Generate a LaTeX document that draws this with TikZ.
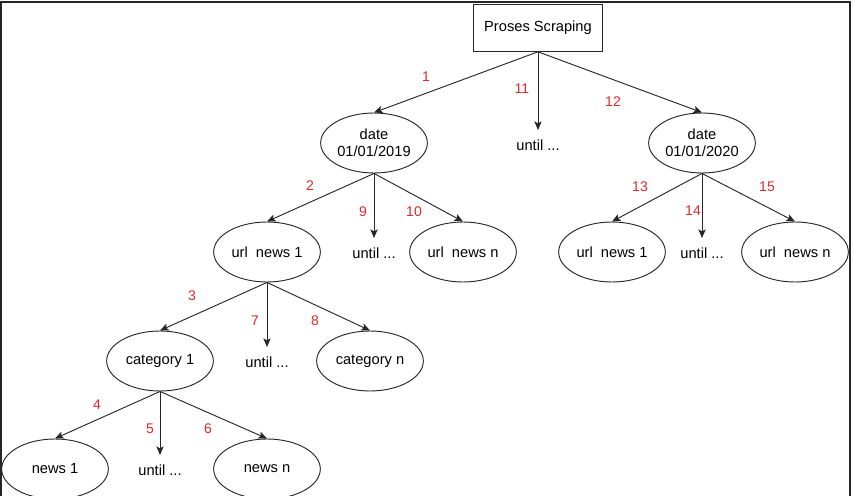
\documentclass[tikz,border=0pt]{standalone}
\usepackage{fontspec}
\setmainfont{Liberation Sans}
\usepackage{xcolor}
\usepackage{tikz}
\usetikzlibrary{arrows.meta,shapes.geometric}
\definecolor{scraperred}{HTML}{E0282A}
\definecolor{scraperline}{HTML}{262626}

\begin{document}
\begin{tikzpicture}[
  x=0.75pt, y=-0.75pt,
  every node/.style={font=\fontsize{11}{13}\selectfont},
  rootbox/.style={draw=scraperline, line width=0.7pt, minimum width=97pt,
                  minimum height=35pt, inner sep=2pt},
  item/.style={ellipse, draw=scraperline, line width=0.7pt, minimum width=80pt,
               minimum height=45pt, inner sep=0pt, align=center},
  until/.style={inner sep=7pt},
  num/.style={text=scraperred, font=\fontsize{10.5}{12}\selectfont, inner sep=0pt},
  arrow/.style={-{Stealth[length=6.5pt,width=5.5pt,inset=1.5pt]}, line width=0.7pt, draw=scraperline}
]
\useasboundingbox (0,0) rectangle (854,496);
\draw[line width=1.8pt, draw=black!85] (1,2) rectangle (850,530);

% tree nodes
\node[rootbox] (root) at (538,28) {Proses Scraping};

\node[item] (date19) at (374,143) {date\\01/01/2019};
\node[until] (until11) at (538,145) {until ...};
\node[item] (date20) at (702,143) {date\\01/01/2020};

\node[item] (urlA1) at (267,252) {url\ \ news 1};
\node[until] (until9) at (374,253) {until ...};
\node[item] (urlAn) at (463,252) {url\ \ news n};
\node[item] (urlB1) at (612,252) {url\ \ news 1};
\node[until] (until14) at (702,253) {until ...};
\node[item] (urlBn) at (795,252) {url\ \ news n};

\node[item] (cat1) at (160,361) {category 1};
\node[until] (until7) at (267,362) {until ...};
\node[item] (catn) at (370,361) {category n};

\node[item] (news1) at (55,469) {news 1};
\node[until] (until5) at (160,470) {until ...};
\node[item] (newsn) at (267,469) {news n};

% connectors
\draw[arrow] (root.south) -- (date19.north);
\draw[arrow] (root.south) -- (until11.north);
\draw[arrow] (root.south) -- (date20.north);
\draw[arrow] (date19.south) -- (urlA1.north);
\draw[arrow] (date19.south) -- (until9.north);
\draw[arrow] (date19.south) -- (urlAn.north);
\draw[arrow] (date20.south) -- (urlB1.north);
\draw[arrow] (date20.south) -- (until14.north);
\draw[arrow] (date20.south) -- (urlBn.north);
\draw[arrow] (urlA1.south) -- (cat1.north);
\draw[arrow] (urlA1.south) -- (until7.north);
\draw[arrow] (urlA1.south) -- (catn.north);
\draw[arrow] (cat1.south) -- (news1.north);
\draw[arrow] (cat1.south) -- (until5.north);
\draw[arrow] (cat1.south) -- (newsn.north);

% step numbers
\node[num] (s1) at (426,77) {1};
\node[num] (s2) at (310,186) {2};
\node[num] (s3) at (192,296) {3};
\node[num] (s4) at (97,405) {4};
\node[num] (s5) at (150,429) {5};
\node[num] (s6) at (208,429) {6};
\node[num] (s7) at (255,321) {7};
\node[num] (s8) at (315,321) {8};
\node[num] (s9) at (363,212) {9};
\node[num] (s10) at (414,212) {10};
\node[num] (s11) at (522,89) {11};
\node[num] (s12) at (613,102) {12};
\node[num] (s13) at (640,187) {13};
\node[num] (s14) at (693,211) {14};
\node[num] (s15) at (767,187) {15};
\end{tikzpicture}
\end{document}
